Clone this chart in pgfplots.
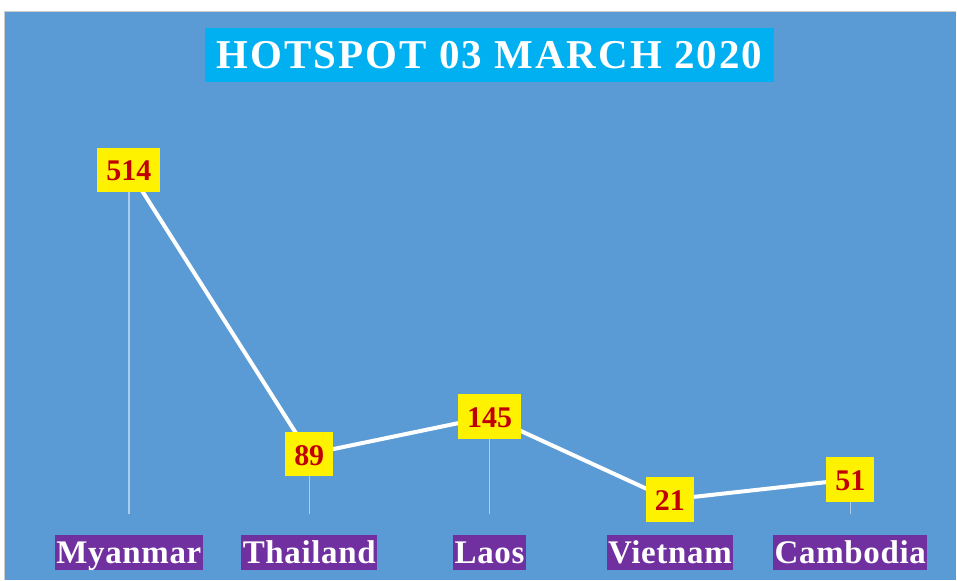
\documentclass[border=0pt]{standalone}
\usepackage{fontspec}
\setmainfont{Liberation Serif}
\usepackage{pgfplots}
\pgfplotsset{compat=1.18}
\definecolor{bgblue}{HTML}{5B9BD5}
\definecolor{titleblue}{HTML}{00B0F0}
\definecolor{labpurple}{HTML}{7030A0}
\definecolor{darkred}{HTML}{C00000}
\begin{document}
\begin{tikzpicture}[x=0.75pt,y=0.75pt]
\fill[white] (0,0) rectangle (957,580);
\fill[bgblue] (5,0) rectangle (957,568);
\draw[black!20, line width=1.2pt] (4.5,0) -- (4.5,568.5) -- (957,568.5);
\node[fill=titleblue, text=white, minimum width=427.5pt, minimum height=40.5pt, inner sep=0pt,
      font=\bfseries\addfontfeatures{LetterSpace=5}\fontsize{30.75}{36}\selectfont] at (490,525) {HOTSPOT 03 MARCH 2020};
\begin{axis}[
  at={(29.0625pt,49.5pt)}, anchor=south west,
  scale only axis, width=676.875pt, height=301.05pt,
  xmin=-0.5, xmax=4.5, ymin=0, ymax=600,
  axis line style={draw=none},
  ytick=\empty,
  xtick={0,1,2,3,4},
  xticklabels={Myanmar,Thailand,Laos,Vietnam,Cambodia},
  major tick length=0pt,
  /pgf/number format/assume math mode=true,
  xticklabel style={anchor=center, yshift=-29.25pt, fill=labpurple, text=white,
     font=\bfseries\addfontfeatures{LetterSpace=2}\fontsize{24.75}{28}\selectfont,
     inner xsep=1pt, inner ysep=0pt, text height=21.5pt, text depth=5.3pt},
  clip=false,
]
\addplot[ycomb, white, opacity=0.5, line width=1pt, mark=none] coordinates {(0,514) (1,89) (2,145) (3,21) (4,51)};
\addplot[white, line width=3pt, mark=none,
  nodes near coords,
  every node near coord/.style={anchor=center, fill=yellow, text=darkred,
     font=\bfseries\fontsize{22.5}{24}\selectfont, inner xsep=6.75pt, inner ysep=0pt,
     text height=25pt, text depth=8.5pt},
] coordinates {(0,514) (1,89) (2,145) (3,21) (4,51)};
\end{axis}
\end{tikzpicture}
\end{document}
